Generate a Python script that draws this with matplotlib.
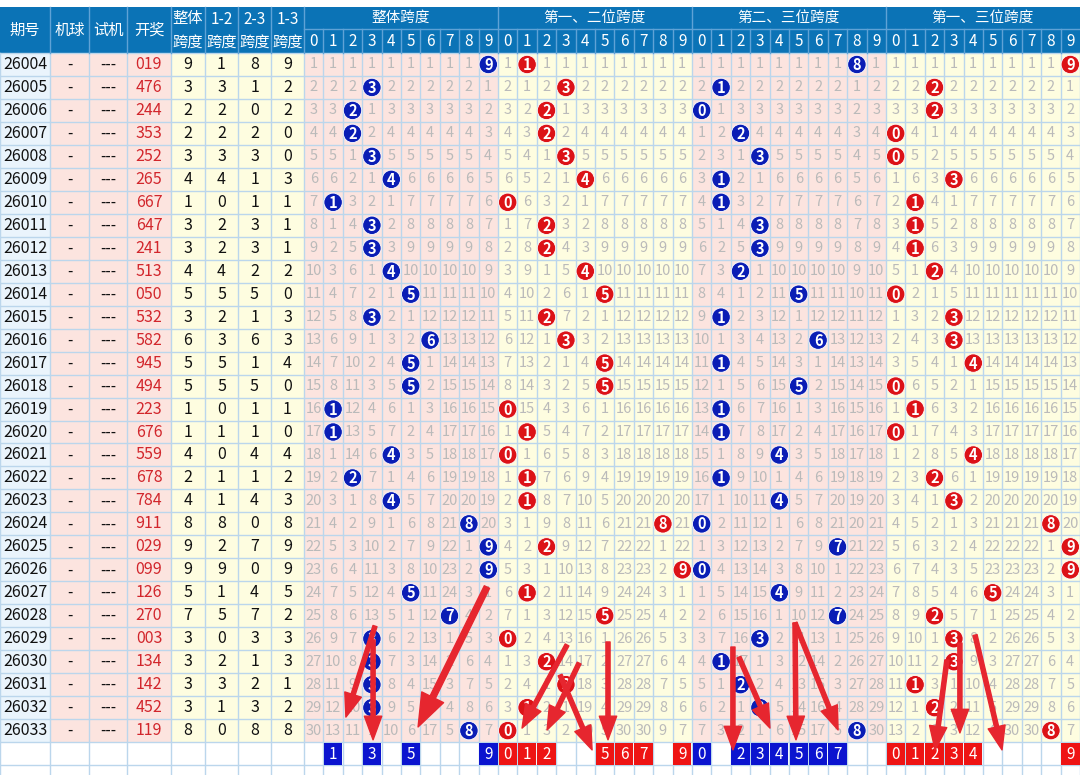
import matplotlib
matplotlib.use('Agg')
import matplotlib.pyplot as plt
from matplotlib.patches import Rectangle, Circle, FancyArrowPatch

plt.rcParams['font.family'] = ['Noto Sans CJK SC', 'DejaVu Sans']

# ---------------- data ----------------
issues = ['26004', '26005', '26006', '26007', '26008', '26009', '26010', '26011',
          '26012', '26013', '26014', '26015', '26016', '26017', '26018', '26019',
          '26020', '26021', '26022', '26023', '26024', '26025', '26026', '26027',
          '26028', '26029', '26030', '26031', '26032', '26033']
draws = ['019', '476', '244', '353', '252', '265', '667', '647', '241', '513',
         '050', '532', '582', '945', '494', '223', '676', '559', '678', '784',
         '911', '029', '099', '126', '270', '003', '134', '142', '452', '119']
span_all = [9, 3, 2, 2, 3, 4, 1, 3, 3, 4, 5, 3, 6, 5, 5, 1, 1, 4, 2, 4, 8, 9, 9, 5, 7, 3, 3, 3, 3, 8]
span_12 = [1, 3, 2, 2, 3, 4, 0, 2, 2, 4, 5, 2, 3, 5, 5, 0, 1, 0, 1, 1, 8, 2, 9, 1, 5, 0, 2, 3, 1, 0]
span_23 = [8, 1, 0, 2, 3, 1, 1, 3, 3, 2, 5, 1, 6, 1, 5, 1, 1, 4, 1, 4, 0, 7, 0, 4, 7, 3, 1, 2, 3, 8]
span_13 = [9, 2, 2, 0, 0, 3, 1, 1, 1, 2, 0, 3, 3, 4, 0, 1, 0, 4, 2, 3, 8, 9, 9, 5, 2, 3, 3, 1, 2, 8]
pred_all = [1, 3, 5, 9]
pred_12 = [0, 1, 2, 5, 6, 7, 9]
pred_23 = [0, 2, 3, 4, 5, 6, 7]
pred_13 = [0, 1, 2, 3, 4, 9]
group_titles = ['整体跨度', '第一、二位跨度', '第二、三位跨度', '第一、三位跨度']
left_headers = ['期号', '机球', '试机', '开奖', '整体\n跨度', '1-2\n跨度', '2-3\n跨度', '1-3\n跨度']
digits = [str(d) for d in range(10)]

# ---------------- layout / style ----------------
W, H = 1080, 775
left_edges = [0, 50, 89, 127, 171, 205, 238, 271, 304]
GX0 = 304
CW = (W - GX0) / 40.0
HY0, HY1, HY2 = 7, 29, 53
RH = 22.97
NR = len(issues)

HEAD = '#0B73B6'
HEAD_LINE = '#5FA2D6'
PINK = '#FCE4DF'
YEL = '#FEFDE0'
LBLUE = '#EAF4FC'
GRID = '#BBD6EC'
OMIT = '#BABABA'
REDTXT = '#D2262C'
BALL_BLUE = '#0A1DB5'
BALL_RED = '#DC1217'
BOX_BLUE = '#0B14CF'
BOX_RED = '#EE1414'
ARROW = '#E6262F'

left_bg = [LBLUE, PINK, PINK, PINK, YEL, YEL, YEL, YEL]
group_bg = [PINK, YEL, PINK, YEL]
group_ball = [BALL_BLUE, BALL_RED, BALL_BLUE, BALL_RED]
group_box = [BOX_BLUE, BOX_RED, BOX_BLUE, BOX_RED]
group_spans = [span_all, span_12, span_23, span_13]
group_preds = [pred_all, pred_12, pred_23, pred_13]

fig = plt.figure(figsize=(W / 100, H / 100), dpi=100)
fig.patch.set_facecolor('white')
ax = fig.add_axes([0, 0, 1, 1])
ax.set_xlim(0, W)
ax.set_ylim(H, 0)
ax.axis('off')


def row_y(r):
    return HY2 + r * RH


def gx(c):
    return GX0 + c * CW


body_bottom = row_y(NR)

# header background
ax.add_patch(Rectangle((0, HY0), W, HY2 - HY0, facecolor=HEAD, edgecolor='none', zorder=1))

# body backgrounds
for i in range(8):
    x0, x1 = left_edges[i], left_edges[i + 1]
    ax.add_patch(Rectangle((x0, HY2), x1 - x0, body_bottom - HY2, facecolor=left_bg[i],
                           edgecolor='none', zorder=1))
for g in range(4):
    ax.add_patch(Rectangle((gx(g * 10), HY2), CW * 10, body_bottom - HY2, facecolor=group_bg[g],
                           edgecolor='none', zorder=1))

# grid lines (body + prediction rows)
yy = HY2
while yy <= H + 1:
    ax.plot([0, W], [yy, yy], color=GRID, lw=1, zorder=2)
    yy += RH
vx = list(left_edges) + [gx(c) for c in range(1, 41)]
for x in vx:
    ax.plot([x, x], [HY2, H], color=GRID, lw=1, zorder=2)

# header lines
for x in left_edges[1:]:
    ax.plot([x, x], [HY0, HY2], color=HEAD_LINE, lw=1, zorder=3)
for c in range(1, 40):
    top = HY0 if c % 10 == 0 else HY1
    ax.plot([gx(c), gx(c)], [top, HY2], color=HEAD_LINE, lw=1, zorder=3)
ax.plot([GX0, W], [HY1, HY1], color=HEAD_LINE, lw=1, zorder=3)

# header texts
for i, t in enumerate(left_headers):
    xc = (left_edges[i] + left_edges[i + 1]) / 2
    if '\n' in t:
        a, b = t.split('\n')
        ax.text(xc, (HY0 + HY1) / 2 + 1, a, color='white', fontsize=11, ha='center', va='center', zorder=4)
        ax.text(xc, (HY1 + HY2) / 2 + 1, b, color='white', fontsize=11, ha='center', va='center', zorder=4)
    else:
        ax.text(xc, (HY0 + HY2) / 2, t, color='white', fontsize=11, ha='center', va='center', zorder=4)
for g in range(4):
    ax.text(gx(g * 10 + 5), (HY0 + HY1) / 2, group_titles[g], color='white', fontsize=10.5,
            ha='center', va='center', zorder=4)
    for d in range(10):
        ax.text(gx(g * 10 + d + 0.5), (HY1 + HY2) / 2 + 1, digits[d], color='white', fontsize=11,
                ha='center', va='center', zorder=4)

# left table body
for r in range(NR):
    yc = row_y(r + 0.5)
    ax.text(25, yc, issues[r], color='#111111', fontsize=11.5, ha='center', va='center', zorder=4)
    ax.text(69.5, yc, '-', color='#111111', fontsize=11, ha='center', va='center', zorder=4)
    ax.text(108, yc, '---', color='#111111', fontsize=11, ha='center', va='center', zorder=4)
    ax.text(149, yc, draws[r], color=REDTXT, fontsize=11.5, ha='center', va='center', zorder=4)
    for i, s in enumerate([span_all[r], span_12[r], span_23[r], span_13[r]]):
        xc = (left_edges[4 + i] + left_edges[5 + i]) / 2
        ax.text(xc, yc, str(s), color='#111111', fontsize=11.5, ha='center', va='center', zorder=4)

# omission grid with hit balls
for g in range(4):
    spans = group_spans[g]
    last = [-1] * 10
    for r in range(NR):
        yc = row_y(r + 0.5)
        for d in range(10):
            xc = gx(g * 10 + d + 0.5)
            if spans[r] == d:
                last[d] = r
                ax.add_patch(Circle((xc, yc), 9.2, facecolor=group_ball[g], edgecolor='white',
                                    lw=0.6, zorder=5))
                ax.text(xc, yc + 0.5, str(d), color='white', fontsize=10.5, fontweight='bold',
                        ha='center', va='center', zorder=6)
            else:
                ax.text(xc, yc, str(r - last[d]), color=OMIT, fontsize=10.5,
                        ha='center', va='center', zorder=4)

# prediction row boxes
py0 = row_y(NR)
for g in range(4):
    for d in group_preds[g]:
        x0 = gx(g * 10 + d)
        ax.add_patch(Rectangle((x0 + 0.5, py0 + 1), CW - 1, RH - 1.5, facecolor=group_box[g],
                               edgecolor='none', zorder=5))
        ax.text(x0 + CW / 2, py0 + RH / 2 + 0.5, str(d), color='white', fontsize=11,
                ha='center', va='center', zorder=6)

# hand-drawn red arrows (grid-column units, row units)
arrows = [
    ((3.66, 24.95), (2.16, 28.91), 1.0),
    ((3.56, 25.55), (3.56, 29.9), 1.0),
    ((9.43, 23.25), (5.88, 29.34), 1.4),
    ((13.56, 25.77), (11.24, 29.39), 1.0),
    ((14.18, 26.56), (12.53, 29.47), 1.0),
    ((13.2, 27.08), (14.85, 30.34), 1.0),
    ((15.67, 25.64), (15.67, 29.9), 1.0),
    ((22.11, 25.86), (22.11, 30.34), 1.0),
    ((22.42, 26.3), (24.02, 29.39), 1.0),
    ((25.31, 24.81), (25.36, 29.9), 1.0),
    ((25.31, 24.81), (27.53, 29.47), 1.0),
    ((33.14, 26.43), (32.53, 30.34), 1.0),
    ((33.81, 25.69), (33.81, 29.6), 1.0),
    ((34.59, 25.34), (35.98, 30.34), 1.0),
]
for (c0, r0), (c1, r1), k in arrows:
    p0 = (gx(c0), row_y(r0))
    p1 = (gx(c1), row_y(r1))
    style = 'simple,tail_width=%.2f,head_width=%.2f,head_length=%.2f' % (0.3 * k, 1.25 * k, 1.7 * k)
    ax.add_patch(FancyArrowPatch(p0, p1, arrowstyle=style, mutation_scale=10, color=ARROW,
                                 shrinkA=0, shrinkB=0, zorder=8))

fig.savefig('out.png', dpi=100, facecolor='white')
